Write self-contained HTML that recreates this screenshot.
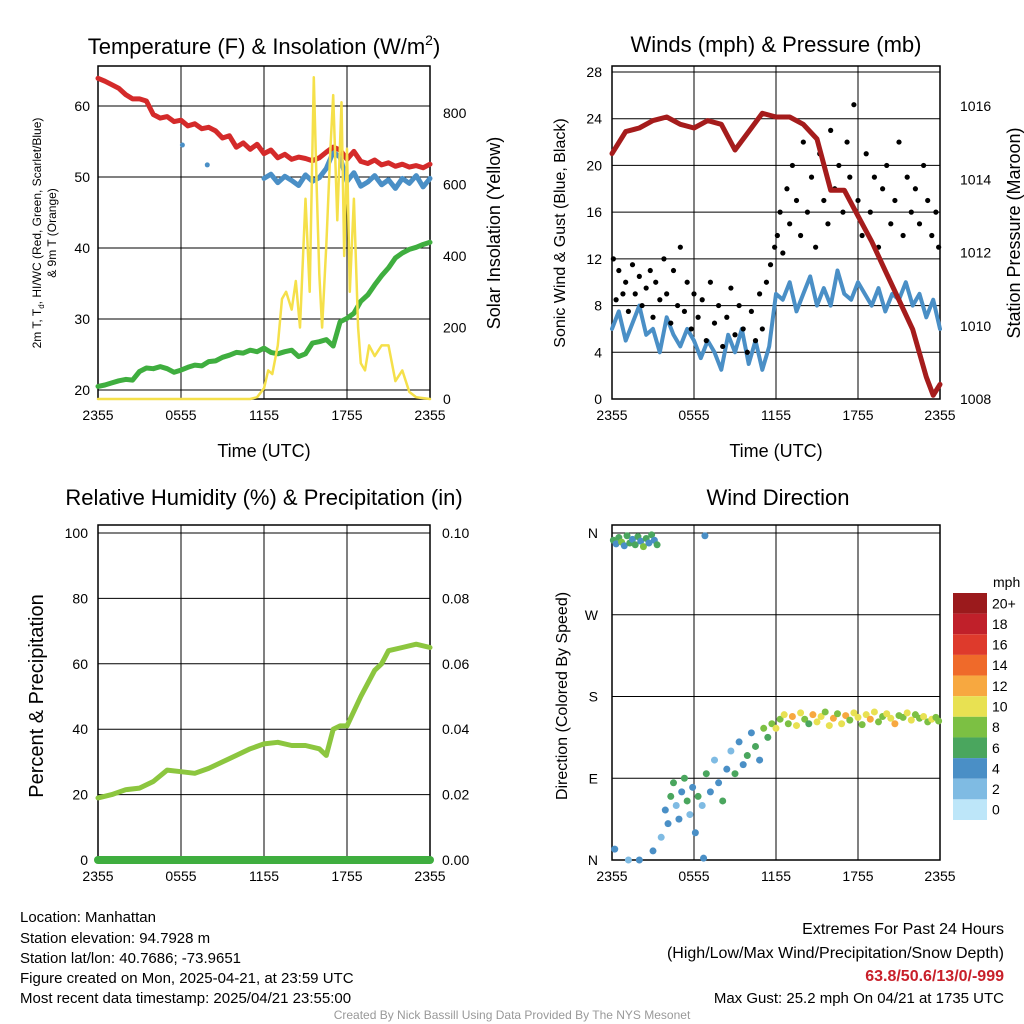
<!DOCTYPE html>
<html><head><meta charset="utf-8"><style>
html,body{margin:0;padding:0;background:#fff}
svg{display:block;font-family:"Liberation Sans",Arial,sans-serif}
</style></head><body>
<svg id="chart" width="1024" height="1024" viewBox="0 0 1024 1024">
<g id="g1"></g>
<g id="g2"></g>
<g id="g3"></g>
<g id="g4"></g>
<g font-size="15" fill="#000">
<text x="20" y="922">Location: Manhattan</text>
<text x="20" y="943">Station elevation: 94.7928 m</text>
<text x="20" y="963">Station lat/lon: 40.7686; -73.9651</text>
<text x="20" y="983">Figure created on Mon, 2025-04-21, at 23:59 UTC</text>
<text x="20" y="1003">Most recent data timestamp: 2025/04/21 23:55:00</text>
<text x="1004" y="934" text-anchor="end" font-size="16">Extremes For Past 24 Hours</text>
<text x="1004" y="958" text-anchor="end" font-size="16">(High/Low/Max Wind/Precipitation/Snow Depth)</text>
<text x="1004" y="981" text-anchor="end" font-size="16" font-weight="bold" fill="#c8202a">63.8/50.6/13/0/-999</text>
<text x="1004" y="1003" text-anchor="end" font-size="15">Max Gust: 25.2 mph On 04/21 at 1735 UTC</text>
<text x="512" y="1019" text-anchor="middle" font-size="12" fill="#999">Created By Nick Bassill Using Data Provided By The NYS Mesonet</text>
</g>
</svg>
<script>
// ---- Panel 1 data ----
const tempT=[0,0.5,1,1.5,2,2.5,3,3.5,4,4.5,5,5.5,6,6.5,7,7.5,8,8.5,9,9.5,10,10.5,11,11.5,12,12.5,13,13.5,14,14.5,15,15.5,16,16.5,17,17.5,18,18.5,19,19.5,20,20.5,21,21.5,22,22.5,23,23.5,24];
const tempF=[63.9,63.5,63,62.5,61.6,61,61,60.7,58.8,58.3,58.5,57.8,58,57.2,57.5,56.8,57,56.5,55.5,55.8,54.2,54.8,53.9,54.6,53.3,53.8,52.7,53.2,52.5,52.8,52.6,52.3,52.7,53.5,54.2,53.8,52.5,53.6,52.2,51.9,52.4,51.7,52,51.5,51.8,51.4,51.6,51.3,51.8];
const dewF=[20.5,20.7,21,21.3,21.5,21.4,22.6,23.1,23,23.3,23,22.5,22.8,23.2,23.5,23.4,24,24.1,24.6,24.9,25.3,25.2,25.6,25.4,25.9,25.3,25.1,25.4,25.6,24.7,25.1,26.6,26.8,27.1,26.2,29.6,30.1,30.8,32.5,33.4,34.8,36.1,37.2,38.6,39.3,39.8,40.1,40.5,40.8];
const hiT=[12,12.5,13,13.5,14,14.5,15,15.5,16,16.5,17,17.5,18,18.5,19,19.5,20,20.5,21,21.5,22,22.5,23,23.5,24];
const hiF=[49.8,50.4,49.2,50.1,49.5,48.8,50.3,49.4,49.9,51.2,53.5,52.8,49.4,50.6,48.7,49.3,50.2,48.9,49.6,48.4,49.8,49.1,50.2,48.6,49.8];
const hiDotT=[6.1,7.9];
const hiDotF=[54.5,51.7];
const solT=[0,11,11.5,12,12.3,12.6,13,13.3,13.6,14,14.3,14.6,15,15.3,15.6,15.8,16,16.2,16.5,16.8,17,17.3,17.6,17.8,18,18.2,18.5,18.8,19,19.3,19.6,20,20.5,21,21.5,22,22.5,23,24];
const solW=[0,0,5,30,80,70,150,280,300,250,330,200,560,300,900,600,350,200,430,700,850,500,830,400,700,300,560,200,100,80,150,120,150,150,50,80,20,5,0];
const xTickLabels=["2355","0555","1155","1755","2355"];
const tempTicks=[20,30,40,50,60];
const solTicks=[0,200,400,600,800];
// ---- Panel 2 data ----
const presT=[0,1,2,3,4,5,6,7,8,9,10,11,12,13,14,15,16,17,18,19,20,21,22,23,23.5,24];
const presMb=[1014.7,1015.3,1015.4,1015.6,1015.7,1015.5,1015.4,1015.6,1015.5,1014.8,1015.3,1015.8,1015.7,1015.7,1015.5,1015.1,1013.7,1013.7,1013.0,1012.3,1011.5,1010.7,1009.9,1008.6,1008.1,1008.4];
const windV=[6,7.5,5,6.5,8,5.5,6,4,7,5.5,4.5,6,5,3.5,5,4,2.5,5.5,4,6,3,5,2.5,4.5,9,8.5,10,7.5,9,10.5,8,9.5,8,11,9,8.5,10,9,8,9.5,7.5,9,8.5,10,8,9,7,8.5,6];
const gustT=[0.1,0.3,0.5,0.8,1,1.2,1.5,1.7,2,2.2,2.5,2.8,3,3.2,3.5,3.8,4,4.3,4.5,4.8,5,5.3,5.5,5.8,6,6.3,6.6,6.9,7.2,7.5,7.8,8.1,8.4,8.7,9,9.3,9.6,9.9,10.2,10.5,10.8,11,11.3,11.6,11.9,12.1,12.3,12.5,12.8,13,13.2,13.5,13.8,14,14.3,14.6,14.9,15.2,15.5,15.8,16,16.3,16.6,16.9,17.2,17.4,17.7,18,18.3,18.6,18.9,19.2,19.5,19.8,20.1,20.4,20.7,21,21.3,21.6,21.9,22.2,22.5,22.8,23.1,23.4,23.7,23.9];
const gustV=[12,8.5,11,9,10,7.5,11.5,9,10.5,8,9.5,11,7,10,8.5,12,9,6.5,11,8,13,7.5,10,6,9,7,8.5,5,10,6.5,8,4.5,7,9.5,5.5,8,6,4,7.5,5,9,6,10,11.5,13,14,16,12.5,18,15,20,17,14,22,16,19,13,21,17,15,23,18,20,16,22,19,25.2,17,14,21,16,19,13,18,20,15,17,22,14,19,16,18,15,20,17,14,16,13];
const windTicks=[0,4,8,12,16,20,24,28];
const presTicks=[1008,1010,1012,1014,1016];
// ---- Panel 3 data ----
const rhT=[0,1,2,3,4,5,6,7,8,9,10,11,12,13,14,15,16,16.5,17,17.5,18,19,20,20.5,21,22,23,24];
const rhV=[19,20,21.5,22,24,27.5,27,26.5,28,30,32,34,35.5,36,35,35,34,32,40,41,41,50,58,60,64,65,66,65];
const rhTicks=[0,20,40,60,80,100];
const pcpTicks=["0.00","0.02","0.04","0.06","0.08","0.10"];
// ---- Panel 4 data ----
const dirT=[0.1,0.3,0.5,0.7,0.9,1.1,1.3,1.5,1.7,1.9,2.1,2.3,2.5,2.7,2.9,3.1,3.3,0.2,1.2,2,3,6.7,6.8,3.6,3.9,4.1,4.3,4.5,4.7,4.9,5.1,5.3,5.5,5.7,5.9,6.1,6.3,6.6,6.9,7.2,7.5,7.8,8.1,8.4,8.7,9,9.3,9.6,9.9,10.2,10.5,10.8,11.1,11.4,11.7,12,12.3,12.6,12.9,13.2,13.5,13.8,14.1,14.4,14.7,15,15.3,15.6,15.9,16.2,16.5,16.8,17.1,17.4,17.7,18,18.3,18.6,18.9,19.2,19.5,19.8,20.1,20.4,20.7,21,21.3,21.6,21.9,22.2,22.5,22.8,23.1,23.4,23.7,23.9];
const dirD=[352,348,355,350,346,357,349,353,347,356,351,345,354,349,358,352,347,12,0,0,10,2,357,25,55,40,70,85,60,45,75,90,65,50,80,30,70,60,95,75,110,85,65,100,120,95,130,105,115,140,125,110,145,135,150,145,155,160,150,158,148,162,155,150,160,152,158,163,148,156,161,150,159,154,162,157,149,160,155,163,152,158,161,156,150,159,157,162,154,160,156,158,152,155,157,153];
const dirS=[5,4,6,7,4,5,6,3,5,6,4,7,5,3,6,4,5,3,2,3,4,3,3,2,4,3,5,6,2,3,4,6,5,2,3,4,6,2,5,3,2,4,6,3,2,5,3,4,6,3,5,4,7,6,8,9,8,10,7,11,9,10,8,6,11,10,9,7,10,12,8,9,11,7,10,9,8,10,11,9,7,8,10,9,11,8,7,9,10,8,7,9,8,10,7,8];
const cbLabels=["20+","18","16","14","12","10","8","6","4","2","0"];
const cbColors=["#9b1a1c","#c0202a","#de3a2c","#ef6a2a","#f7a840","#e8e152","#7cc043","#4aa65e","#4a8fc6","#7fbbe3","#bde6f9"];
const dirLabels=["N","E","S","W","N"];

const NS="http://www.w3.org/2000/svg";
function mk(p,tag,a){const e=document.createElementNS(NS,tag);for(const k in a)e.setAttribute(k,a[k]);p.appendChild(e);return e;}
function lin(d0,d1,r0,r1){return v=>r0+(v-d0)/(d1-d0)*(r1-r0);}
function txt(p,x,y,s,a){const e=mk(p,"text",Object.assign({x:x,y:y},a||{}));e.textContent=s;return e;}
function frame(g,x0,x1,y0,y1,yvals,ys){
  // grid
  [0,6,12,18,24].forEach((h,i)=>{const X=x0+(x1-x0)*h/24;
    const l=mk(g,"line",{x1:X,x2:X,y1:y0,y2:y1,stroke:"#000","stroke-width":1});
    
    
    const t=txt(g,X,y1+21,xTickLabels[i],{"text-anchor":"middle","font-size":14});
    
    
  });
  yvals.forEach(v=>{const Y=ys(v);
    const l=mk(g,"line",{x1:x0,x2:x1,y1:Y,y2:Y,stroke:"#000","stroke-width":1});
    
    
  });
  const r=mk(g,"rect",{x:x0,y:y0,width:x1-x0,height:y1-y0,fill:"none",stroke:"#000","stroke-width":1.5});
  
  
}
function poly(g,xs,ys,col,w,name){const pts=xs.map((x,i)=>x.toFixed(1)+","+ys[i].toFixed(1)).join(" ");
  const p=mk(g,"polyline",{points:pts,fill:"none",stroke:col,"stroke-width":w,"stroke-linejoin":"round","stroke-linecap":"round"});
  
  return p;}

// Panel 1
(function(){const g=document.getElementById("g1");const x0=98,x1=430,y0=66,y1=399;
 const sx=lin(0,24,x0,x1), sy=lin(20,60,390,106), ss=lin(0,800,399,113);
 frame(g,x0,x1,y0,y1,tempTicks,sy);
 tempTicks.forEach(v=>{const t=txt(g,x0-8,sy(v)+5,String(v),{"text-anchor":"end","font-size":14});});
 solTicks.forEach(v=>{const t=txt(g,x1+13,ss(v)+5,String(v),{"font-size":14});});
 poly(g,tempT.map(sx),dewF.map(sy),"#3fae3f",5,"dewpoint-line");
 poly(g,hiT.map(sx),hiF.map(sy),"#4a8fc6",5,"heat-index-line");
 hiDotT.forEach((t,i)=>{const c=mk(g,"circle",{cx:sx(t),cy:sy(hiDotF[i]),r:2.5,fill:"#4a8fc6"});});
 poly(g,tempT.map(sx),tempF.map(sy),"#d42a2a",5,"temperature-line");
 poly(g,solT.map(sx),solW.map(ss),"#f5e04a",2.5,"solar-line");
 let t=txt(g,264,54,"Temperature (F) & Insolation (W/m",{"text-anchor":"middle","font-size":22});
 const ts=mk(t,"tspan",{dy:-9,"font-size":14});ts.textContent="2";const ts2=mk(t,"tspan",{dy:9});ts2.textContent=")";
 t=txt(g,264,457,"Time (UTC)",{"text-anchor":"middle","font-size":18});
 t=txt(g,0,0,"Solar Insolation (Yellow)",{"text-anchor":"middle","font-size":18,transform:"translate(500,233) rotate(-90)"});
 t=txt(g,0,0,"2m T, T",{"text-anchor":"middle","font-size":12,transform:"translate(41,233) rotate(-90)"});
 t.textContent="";const a=mk(t,"tspan",{});a.textContent="2m T, T";const b=mk(t,"tspan",{"font-size":8,dy:3});b.textContent="d";const c=mk(t,"tspan",{dy:-3});c.textContent=", HI/WC (Red, Green, Scarlet/Blue)";
 t=txt(g,0,0,"& 9m T (Orange)",{"text-anchor":"middle","font-size":12,transform:"translate(56,233) rotate(-90)"});
})();

// Panel 2
(function(){const g=document.getElementById("g2");const x0=612,x1=940,y0=66,y1=399;
 const sx=lin(0,24,x0,x1), sy=lin(0,28,399,72), sp=lin(1008,1016,399,106);
 frame(g,x0,x1,y0,y1,windTicks,sy);
 windTicks.forEach(v=>{const t=txt(g,x0-10,sy(v)+5,String(v),{"text-anchor":"end","font-size":14});});
 presTicks.forEach(v=>{const t=txt(g,x1+20,sp(v)+5,String(v),{"font-size":14});});
 poly(g,windV.map((v,i)=>sx(i*0.5)),windV.map(sy),"#4a8fc6",4,"wind-speed-line");
 gustT.forEach((t,i)=>{const c=mk(g,"circle",{cx:sx(t),cy:sy(gustV[i]),r:2.6,fill:"#000"});});
 poly(g,presT.map(sx),presMb.map(sp),"#a51c1c",5,"pressure-line");
 let t=txt(g,776,52,"Winds (mph) & Pressure (mb)",{"text-anchor":"middle","font-size":22});
 t=txt(g,776,457,"Time (UTC)",{"text-anchor":"middle","font-size":18});
 t=txt(g,0,0,"Sonic Wind & Gust (Blue, Black)",{"text-anchor":"middle","font-size":16,transform:"translate(565,233) rotate(-90)"});
 t=txt(g,0,0,"Station Pressure (Maroon)",{"text-anchor":"middle","font-size":18,transform:"translate(1020,233) rotate(-90)"});
})();

// Panel 3
(function(){const g=document.getElementById("g3");const x0=98,x1=430,y0=525,y1=860;
 const sx=lin(0,24,x0,x1), sy=lin(0,100,860,533);
 frame(g,x0,x1,y0,y1,rhTicks,sy);
 rhTicks.forEach((v,i)=>{let t=txt(g,x0-10,sy(v)+5,String(v),{"text-anchor":"end","font-size":14});
   t=txt(g,x1+12,sy(v)+5,pcpTicks[i],{"font-size":14});});
 poly(g,rhT.map(sx),rhV.map(sy),"#8cc63f",5,"humidity-line");
 poly(g,[sx(0),sx(24)],[sy(0),sy(0)],"#3fae3f",8,"precipitation-line");
 let t=txt(g,264,505,"Relative Humidity (%) & Precipitation (in)",{"text-anchor":"middle","font-size":22});
 t=txt(g,0,0,"Percent & Precipitation",{"text-anchor":"middle","font-size":20,transform:"translate(43,696) rotate(-90)"});
})();

// Panel 4
(function(){const g=document.getElementById("g4");const x0=612,x1=940,y0=525,y1=860;
 const sx=lin(0,24,x0,x1), sy=lin(0,360,860,533);
 frame(g,x0,x1,y0,y1,[0,90,180,270,360],sy);
 dirLabels.forEach((s,i)=>{const t=txt(g,x0-14,sy(i*90)+5,s,{"text-anchor":"end","font-size":14});});
 dirT.forEach((t,i)=>{const k=10-Math.min(10,Math.round(dirS[i]/2));
   const c=mk(g,"circle",{cx:sx(t),cy:sy(dirD[i]),r:3.5,fill:cbColors[k]});
   
   });
 let t=txt(g,778,505,"Wind Direction",{"text-anchor":"middle","font-size":22});
 t=txt(g,0,0,"Direction (Colored By Speed)",{"text-anchor":"middle","font-size":16,transform:"translate(567,696) rotate(-90)"});
 t=txt(g,993,587,"mph",{"font-size":14});
 const h=227/11;
 cbColors.forEach((c,i)=>{const r=mk(g,"rect",{x:953,y:593+i*h,width:34,height:h,fill:c});
   const tt=txt(g,992,593+i*h+h/2+5,cbLabels[i],{"font-size":14});});
})();
</script>
</body></html>
